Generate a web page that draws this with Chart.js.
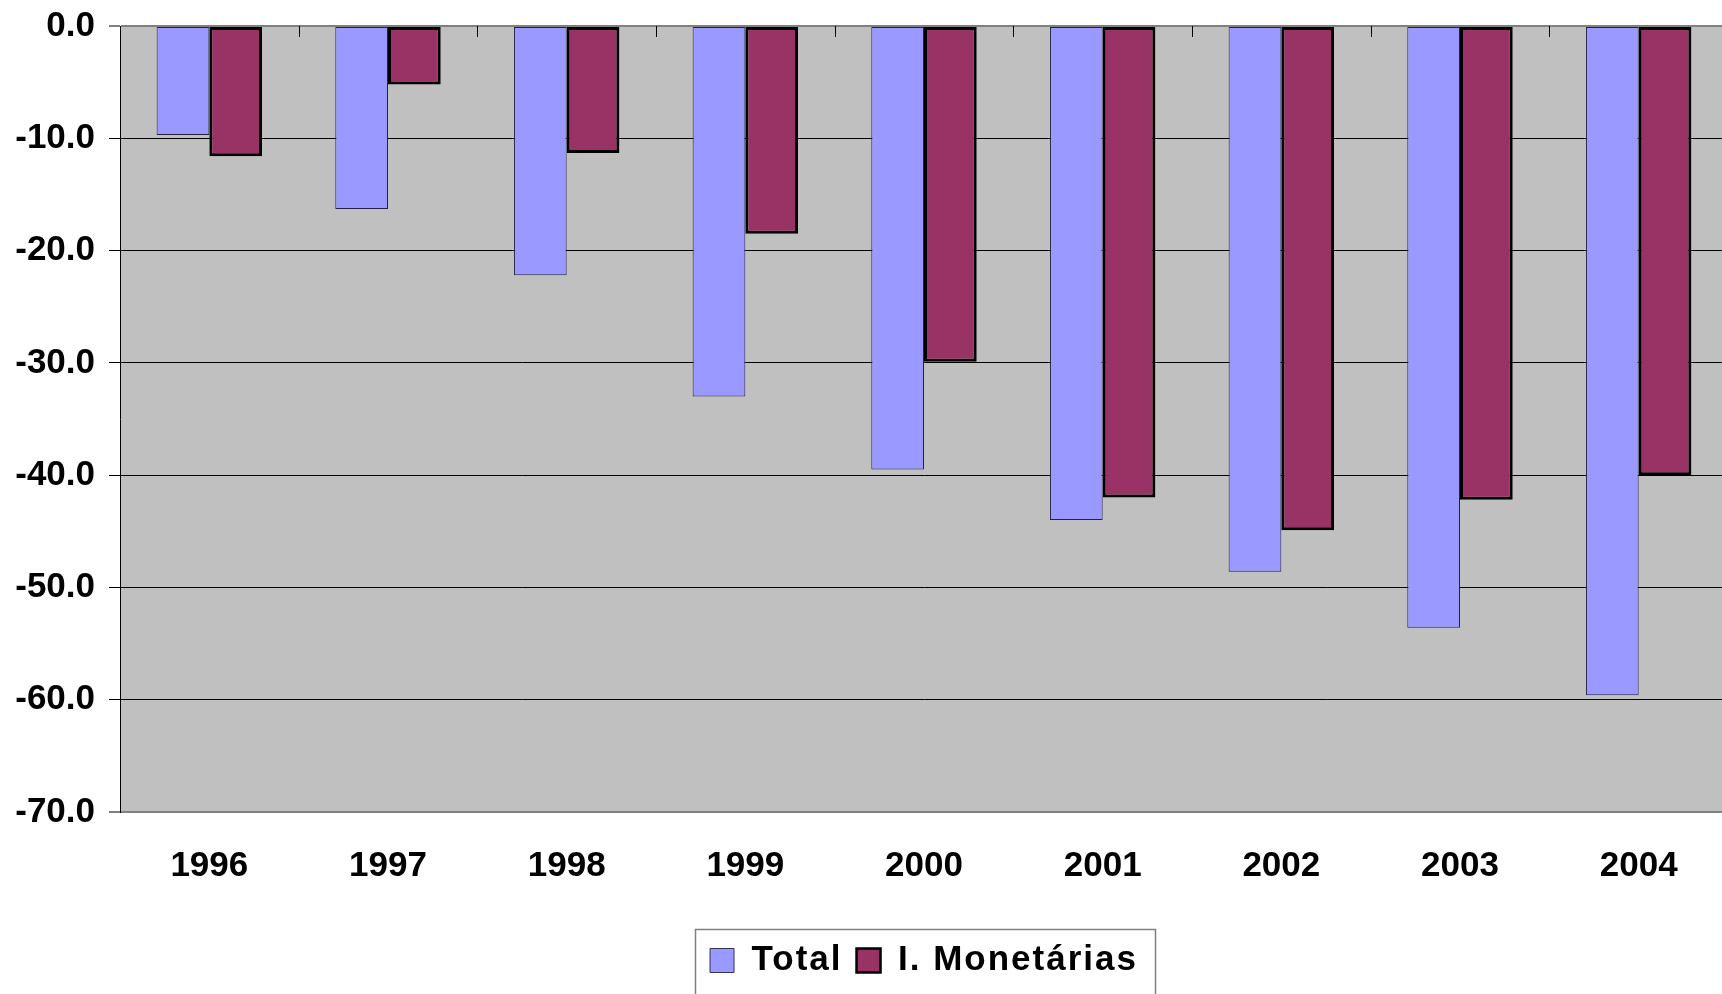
<!DOCTYPE html>
<html>
<head>
<meta charset="utf-8">
<script src="https://cdn.jsdelivr.net/npm/chart.js@4.4.1/dist/chart.umd.min.js"></script>
<style>
  html, body { margin: 0; padding: 0; background: #ffffff; overflow: hidden; }
  #wrap { width: 1722px; height: 994px; position: relative; overflow: hidden; }
  #chart { display: block; }
</style>
</head>
<body>
<div id="wrap"><canvas id="chart" width="1728" height="994"></canvas></div>
<script>
// ---- data ----
const categories = ['1996', '1997', '1998', '1999', '2000', '2001', '2002', '2003', '2004'];
const totalValues = [-9.7, -16.3, -22.2, -33.0, -39.5, -44.0, -48.6, -53.6, -59.6];
const monetaryValues = [-11.6, -5.2, -11.3, -18.5, -29.9, -42.0, -44.9, -42.2, -40.0];
const seriesNames = ['Total', 'I. Monetárias'];
const yMin = -70;
const yMax = 0;
const yStep = 10;

const FONT = '"Liberation Sans", Arial, Helvetica, sans-serif';

// plot background
const plotBg = {
  id: 'plotBg',
  beforeDraw(chart) {
    const {ctx, chartArea: a} = chart;
    ctx.save();
    ctx.fillStyle = '#C0C0C0';
    ctx.fillRect(a.left, a.top, a.right - a.left, a.bottom - a.top);
    ctx.restore();
  }
};

// inside tick marks on the category axis (at the zero line)
const catTicks = {
  id: 'catTicks',
  afterDatasetsDraw(chart) {
    const {ctx} = chart;
    const xs = chart.scales.x;
    const ys = chart.scales.y;
    const y0 = ys.getPixelForValue(0);
    ctx.save();
    ctx.strokeStyle = '#000';
    ctx.lineWidth = 1;
    for (let i = 0; i < categories.length - 1; i++) {
      const x = Math.round((xs.getPixelForValue(i) + xs.getPixelForValue(i + 1)) / 2) + 0.5;
      ctx.beginPath();
      ctx.moveTo(x, y0);
      ctx.lineTo(x, y0 + 11);
      ctx.stroke();
    }
    ctx.restore();
  }
};

// letter spacing for legend text + legend frame
const legendStyle = {
  id: 'legendStyle',
  afterInit(chart) {
    const lg = chart.legend;
    if (!lg || lg.__wrapped) return;
    ['fit', 'draw'].forEach(m => {
      const orig = lg[m];
      lg[m] = function (...args) {
        const c = this.ctx;
        const prev = c.letterSpacing;
        c.letterSpacing = '2px';
        try { return orig.apply(this, args); }
        finally { c.letterSpacing = prev; }
      };
    });
    lg.__wrapped = true;
  },
  afterDraw(chart) {
    const lg = chart.legend;
    if (!lg || !lg.legendHitBoxes || !lg.legendHitBoxes.length) return;
    const hb = lg.legendHitBoxes;
    const left = hb[0].left - 15;
    const last = hb[hb.length - 1];
    const right = last.left + last.width + 17;
    const top = lg.top;
    const {ctx} = chart;
    ctx.save();
    ctx.strokeStyle = '#808080';
    ctx.lineWidth = 1.5;
    ctx.strokeRect(Math.round(left) + 0.5, Math.round(top) + 0.5, Math.round(right - left), chart.height + 10);
    ctx.restore();
  }
};

const ctx = document.getElementById('chart').getContext('2d');
new Chart(ctx, {
  type: 'bar',
  data: {
    labels: categories,
    datasets: [
      {
        label: seriesNames[0],
        data: totalValues,
        backgroundColor: '#9999FF',
        borderColor: '#222244',
        borderWidth: 1,
        borderSkipped: false,
        categoryPercentage: 0.59,
        barPercentage: 1.0
      },
      {
        label: seriesNames[1],
        data: monetaryValues,
        backgroundColor: '#993366',
        borderColor: '#000000',
        borderWidth: 3,
        borderSkipped: false,
        categoryPercentage: 0.59,
        barPercentage: 1.0
      }
    ]
  },
  options: {
    responsive: false,
    animation: false,
    devicePixelRatio: 1,
    layout: { padding: { top: 26, left: 0, right: 0, bottom: 6 } },
    plugins: {
      title: { display: false },
      tooltip: { enabled: false },
      legend: {
        display: true,
        position: 'bottom',
        fullSize: false,
        align: 'center',
        labels: {
          color: '#000',
          font: { family: FONT, size: 35, weight: 'bold' },
          boxWidth: 24,
          boxHeight: 24,
          padding: 14,
          generateLabels(chart) {
            return chart.data.datasets.map((ds, i) => ({
              text: ds.label,
              fillStyle: ds.backgroundColor,
              strokeStyle: i === 0 ? '#333355' : '#000000',
              lineWidth: i === 0 ? 1 : 2.5,
              hidden: false,
              datasetIndex: i
            }));
          }
        }
      }
    },
    scales: {
      x: {
        position: 'bottom',
        offset: true,
        grid: { display: false },
        border: { display: false },
        ticks: {
          color: '#000',
          font: { family: FONT, size: 35, weight: 'bold' },
          padding: 25,
          maxRotation: 0,
          autoSkip: false
        },
        afterFit(s) { s.height = 117; }
      },
      y: {
        min: yMin,
        max: yMax,
        ticks: {
          stepSize: yStep,
          color: '#000',
          font: { family: FONT, size: 35, weight: 'bold', lineHeight: 0.6 },
          padding: 14,
          callback: (v) => Number(v).toFixed(1)
        },
        grid: {
          color: (c) => (c.tick && (c.tick.value === yMax || c.tick.value === yMin)) ? '#808080' : '#000000',
          lineWidth: (c) => (c.tick && (c.tick.value === yMax || c.tick.value === yMin)) ? 2 : 1,
          tickLength: 11,
          drawTicks: true
        },
        border: { display: true, color: '#000000', width: 1 },
        afterFit(s) { s.width = 120; }
      }
    }
  },
  plugins: [plotBg, catTicks, legendStyle]
});
</script>
</body>
</html>
